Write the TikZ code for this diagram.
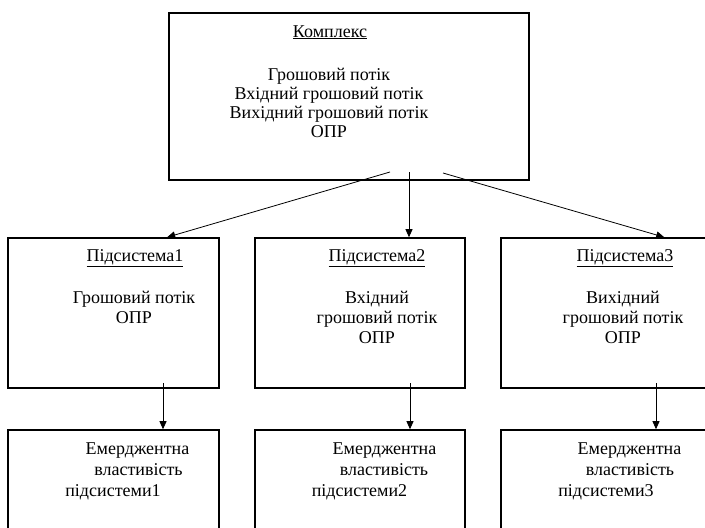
\documentclass[tikz,border=0pt]{standalone}
\usepackage{fontspec}
\setmainfont{Liberation Serif}
\usetikzlibrary{arrows.meta,calc}
\begin{document}
\begin{tikzpicture}[x=1pt,y=-1pt,
  box/.style={draw,line width=1.6pt,inner sep=0pt,rectangle},
  arr/.style={line width=0.8pt,-{Triangle[length=8pt,width=7pt]}},
  txt/.style={inner sep=0pt,font=\fontsize{18}{19}\selectfont,align=center,anchor=base},
  subtxt/.style={txt,font=\fontsize{18}{20}\selectfont},
  lbl/.style={inner sep=0pt,font=\fontsize{18}{21}\selectfont,anchor=base}]
\useasboundingbox (0,0) rectangle (705,528);
\clip (0,0) rectangle (705,528);
% boxes
\node[box,minimum width=360pt,minimum height=167pt] (top) at (349,96.5) {};
\node[box,minimum width=211pt,minimum height=150pt] (b1) at (113.5,313) {};
\node[box,minimum width=210pt,minimum height=150pt] (b2) at (360,313) {};
\node[box,minimum width=211pt,minimum height=150pt] (b3) at (606.5,313) {};
\node[box,minimum width=211pt,minimum height=140pt] (c1) at (113.5,500) {};
\node[box,minimum width=210pt,minimum height=140pt] (c2) at (360,500) {};
\node[box,minimum width=211pt,minimum height=140pt] (c3) at (606.5,500) {};
% texts (multi-line nodes: base = baseline of the last line)
\node[lbl] (ttitle) at (330,37) {\underline{Комплекс}};
\node[txt] (tbody) at (329,137) {Грошовий потік\\Вхідний грошовий потік\\Вихідний грошовий потік\\ОПР};
\node[lbl] (s1t) at (135,261) {\underline{Підсистема1}};
\node[lbl] (s2t) at (377,261) {\underline{Підсистема2}};
\node[lbl] (s3t) at (625,261) {\underline{Підсистема3}};
\node[subtxt] (s1b) at (134,323) {Грошовий потік\\ОПР};
\node[subtxt] (s2b) at (377,343) {Вхідний\\грошовий потік\\ОПР};
\node[subtxt] (s3b) at (623,343) {Вихідний\\грошовий потік\\ОПР};
\node[lbl] (e1a) at (137.5,454) {Емерджентна};
\node[lbl] (e1b) at (138.5,475) {властивість};
\node[lbl] (e1c) at (113,496) {підсистеми1};
\node[lbl] (e2a) at (384.5,454) {Емерджентна};
\node[lbl] (e2b) at (384,475) {властивість};
\node[lbl] (e2c) at (359.5,496) {підсистеми2};
\node[lbl] (e3a) at (629.5,454) {Емерджентна};
\node[lbl] (e3b) at (630,475) {властивість};
\node[lbl] (e3c) at (606,496) {підсистеми3};
% connector start points (inside the boxes)
\coordinate (p1) at (390,172);
\coordinate (p2) at (409,172);
\coordinate (p3) at (443,173);
\coordinate (q1) at (163,383);
\coordinate (q2) at (410,383);
\coordinate (q3) at (656,383);
% connectors
\draw[arr] (p1) -- ($(b1.north west)+(160,0)$);
\draw[arr] (p2) -- (p2 |- b2.north);
\draw[arr] (p3) -- ($(b3.north west)+(164,0)$);
\draw[arr] (q1) -- (q1 |- c1.north);
\draw[arr] (q2) -- (q2 |- c2.north);
\draw[arr] (q3) -- (q3 |- c3.north);
\end{tikzpicture}
\end{document}
